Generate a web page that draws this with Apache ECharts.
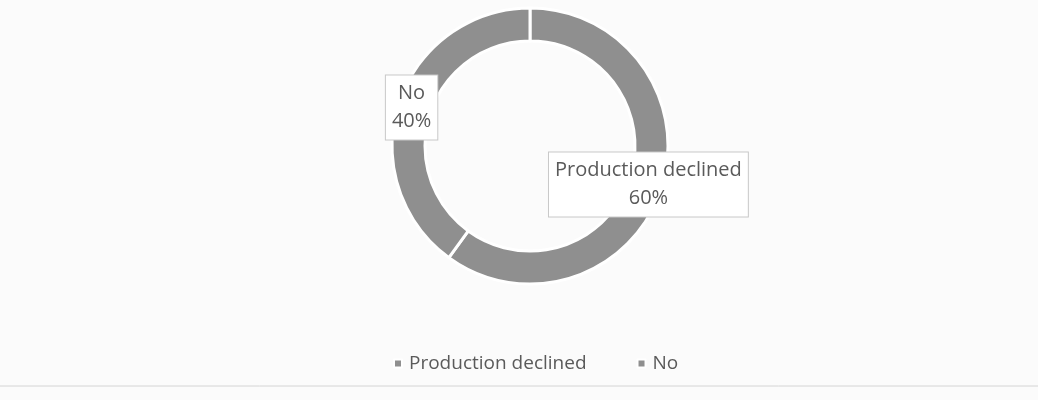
<!DOCTYPE html>
<html>
<head>
<meta charset="utf-8">
<script src="https://cdn.jsdelivr.net/npm/echarts@6/dist/echarts.min.js"></script>
<style>
html,body{margin:0;padding:0;background:#fbfbfb;}
#chart{width:1038px;height:400px;}
</style>
</head>
<body>
<div id="chart"></div>
<script>
var categories = ['Production declined', 'No'];
var values = [60, 40];
var colors = ['#8f8f8f', '#8f8f8f'];

var chart = echarts.init(document.getElementById('chart'));
var font = '"Open Sans", sans-serif';
chart.setOption({
  backgroundColor: '#fbfbfb',
  animation: false,
  legend: {
    data: categories,
    bottom: 22,
    left: 388,
    icon: 'rect',
    itemWidth: 8,
    itemHeight: 8,
    itemGap: 50,
    textStyle: { fontSize: 19, color: '#5a5a5a', fontFamily: font, padding: [0, 0, 0, 2] }
  },
  graphic: [{
    type: 'line',
    shape: { x1: 0, y1: 386, x2: 1038, y2: 386 },
    style: { stroke: '#d4d4d4', lineWidth: 1 }
  }],
  series: [{
    type: 'pie',
    center: [530, 146],
    radius: [105, 138],
    startAngle: 90,
    clockwise: true,
    avoidLabelOverlap: false,
    itemStyle: { borderColor: '#ffffff', borderWidth: 3 },
    label: {
      show: true,
      position: 'inside',
      formatter: function (p) { return p.name + '\n' + Math.round(p.percent) + '%'; },
      fontSize: 20,
      lineHeight: 28,
      color: '#5a5a5a',
      fontFamily: font,
      backgroundColor: '#ffffff',
      borderColor: '#c8c8c8',
      borderWidth: 1,
      padding: [4, 6, 4, 6],
      align: 'center'
    },
    labelLine: { show: false },
    emphasis: { disabled: true },
    data: categories.map(function (c, i) {
      return { name: c, value: values[i], itemStyle: { color: colors[i] } };
    })
  }]
});
</script>
</body>
</html>
